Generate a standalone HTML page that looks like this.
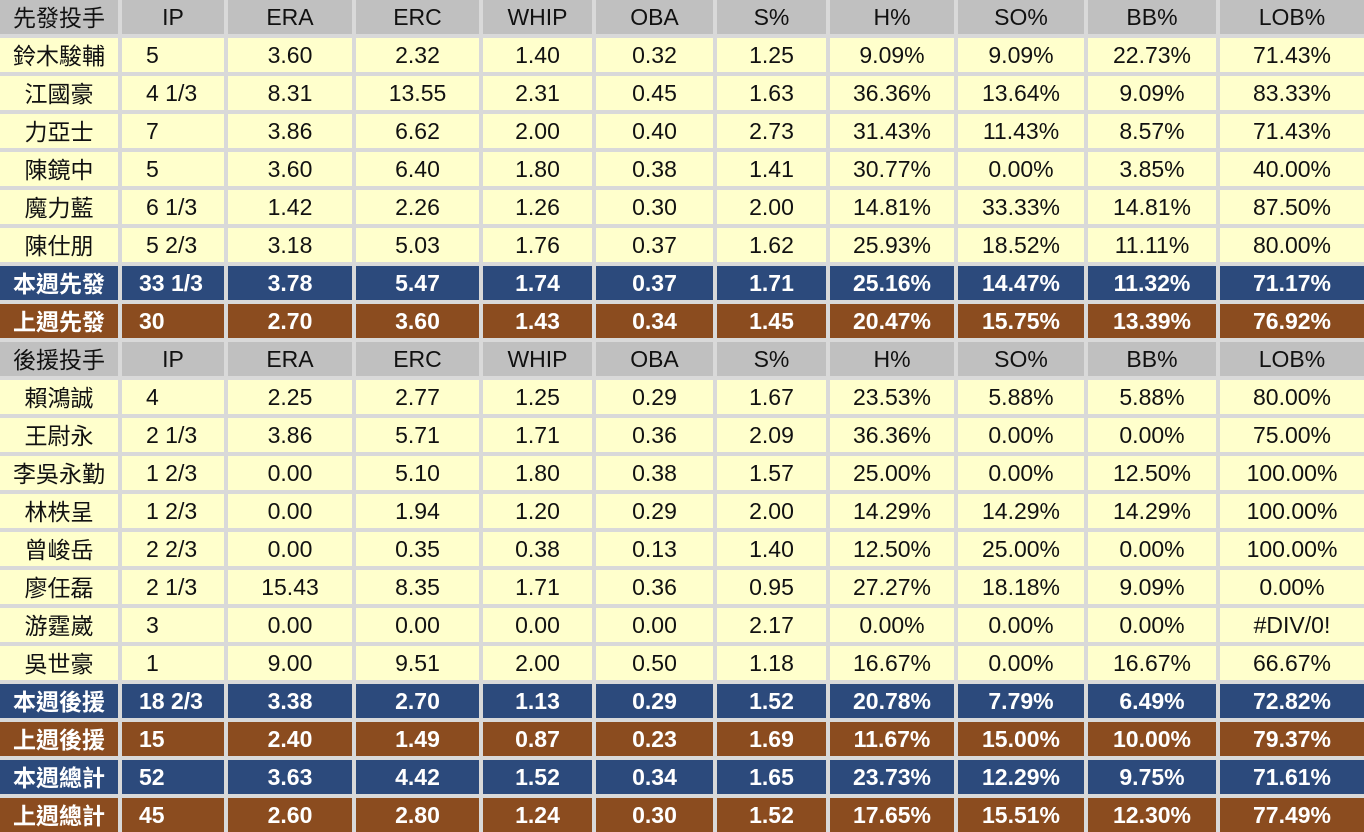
<!DOCTYPE html>
<html><head><meta charset="utf-8">
<style>
html,body{margin:0;padding:0;background:#d9d9d9;}
.g{display:grid;width:1364px;height:832px;grid-template-columns:118px 102px 124px 123px 109px 117px 109px 124px 126px 128px 144px;grid-template-rows:repeat(22,34px);gap:4px;background:#d9d9d9;font-family:"Liberation Sans","Noto Sans CJK TC",sans-serif;font-size:23px;}
.g>div{display:flex;align-items:center;justify-content:center;background:#ffffcc;color:#111;white-space:nowrap;line-height:34px;}
.g>div:nth-child(11n+1){font-family:"Noto Sans CJK TC",sans-serif;font-size:23px;line-height:28px;padding-bottom:3px;box-sizing:border-box;}
.g>div.h{background:#c0c0c0;}
.g>div.ip{justify-content:flex-start;padding-left:24px;}
.g>div.b{background:#2c4a7c;color:#fff;font-weight:bold;}
.g>div.r{background:#8b4c1f;color:#fff;font-weight:bold;}
.g>div.b.ip,.g>div.r.ip{padding-left:17px;}
</style></head><body>
<div class="g">
<div class="h">先發投手</div><div class="h">IP</div><div class="h">ERA</div><div class="h">ERC</div><div class="h">WHIP</div><div class="h">OBA</div><div class="h">S%</div><div class="h">H%</div><div class="h">SO%</div><div class="h">BB%</div><div class="h">LOB%</div>
<div>鈴木駿輔</div><div class="ip">5</div><div>3.60</div><div>2.32</div><div>1.40</div><div>0.32</div><div>1.25</div><div>9.09%</div><div>9.09%</div><div>22.73%</div><div>71.43%</div>
<div>江國豪</div><div class="ip">4 1/3</div><div>8.31</div><div>13.55</div><div>2.31</div><div>0.45</div><div>1.63</div><div>36.36%</div><div>13.64%</div><div>9.09%</div><div>83.33%</div>
<div>力亞士</div><div class="ip">7</div><div>3.86</div><div>6.62</div><div>2.00</div><div>0.40</div><div>2.73</div><div>31.43%</div><div>11.43%</div><div>8.57%</div><div>71.43%</div>
<div>陳鏡中</div><div class="ip">5</div><div>3.60</div><div>6.40</div><div>1.80</div><div>0.38</div><div>1.41</div><div>30.77%</div><div>0.00%</div><div>3.85%</div><div>40.00%</div>
<div>魔力藍</div><div class="ip">6 1/3</div><div>1.42</div><div>2.26</div><div>1.26</div><div>0.30</div><div>2.00</div><div>14.81%</div><div>33.33%</div><div>14.81%</div><div>87.50%</div>
<div>陳仕朋</div><div class="ip">5 2/3</div><div>3.18</div><div>5.03</div><div>1.76</div><div>0.37</div><div>1.62</div><div>25.93%</div><div>18.52%</div><div>11.11%</div><div>80.00%</div>
<div class="b">本週先發</div><div class="b ip">33 1/3</div><div class="b">3.78</div><div class="b">5.47</div><div class="b">1.74</div><div class="b">0.37</div><div class="b">1.71</div><div class="b">25.16%</div><div class="b">14.47%</div><div class="b">11.32%</div><div class="b">71.17%</div>
<div class="r">上週先發</div><div class="r ip">30</div><div class="r">2.70</div><div class="r">3.60</div><div class="r">1.43</div><div class="r">0.34</div><div class="r">1.45</div><div class="r">20.47%</div><div class="r">15.75%</div><div class="r">13.39%</div><div class="r">76.92%</div>
<div class="h">後援投手</div><div class="h">IP</div><div class="h">ERA</div><div class="h">ERC</div><div class="h">WHIP</div><div class="h">OBA</div><div class="h">S%</div><div class="h">H%</div><div class="h">SO%</div><div class="h">BB%</div><div class="h">LOB%</div>
<div>賴鴻誠</div><div class="ip">4</div><div>2.25</div><div>2.77</div><div>1.25</div><div>0.29</div><div>1.67</div><div>23.53%</div><div>5.88%</div><div>5.88%</div><div>80.00%</div>
<div>王尉永</div><div class="ip">2 1/3</div><div>3.86</div><div>5.71</div><div>1.71</div><div>0.36</div><div>2.09</div><div>36.36%</div><div>0.00%</div><div>0.00%</div><div>75.00%</div>
<div>李吳永勤</div><div class="ip">1 2/3</div><div>0.00</div><div>5.10</div><div>1.80</div><div>0.38</div><div>1.57</div><div>25.00%</div><div>0.00%</div><div>12.50%</div><div>100.00%</div>
<div>林柣呈</div><div class="ip">1 2/3</div><div>0.00</div><div>1.94</div><div>1.20</div><div>0.29</div><div>2.00</div><div>14.29%</div><div>14.29%</div><div>14.29%</div><div>100.00%</div>
<div>曾峻岳</div><div class="ip">2 2/3</div><div>0.00</div><div>0.35</div><div>0.38</div><div>0.13</div><div>1.40</div><div>12.50%</div><div>25.00%</div><div>0.00%</div><div>100.00%</div>
<div>廖任磊</div><div class="ip">2 1/3</div><div>15.43</div><div>8.35</div><div>1.71</div><div>0.36</div><div>0.95</div><div>27.27%</div><div>18.18%</div><div>9.09%</div><div>0.00%</div>
<div>游霆崴</div><div class="ip">3</div><div>0.00</div><div>0.00</div><div>0.00</div><div>0.00</div><div>2.17</div><div>0.00%</div><div>0.00%</div><div>0.00%</div><div>#DIV/0!</div>
<div>吳世豪</div><div class="ip">1</div><div>9.00</div><div>9.51</div><div>2.00</div><div>0.50</div><div>1.18</div><div>16.67%</div><div>0.00%</div><div>16.67%</div><div>66.67%</div>
<div class="b">本週後援</div><div class="b ip">18 2/3</div><div class="b">3.38</div><div class="b">2.70</div><div class="b">1.13</div><div class="b">0.29</div><div class="b">1.52</div><div class="b">20.78%</div><div class="b">7.79%</div><div class="b">6.49%</div><div class="b">72.82%</div>
<div class="r">上週後援</div><div class="r ip">15</div><div class="r">2.40</div><div class="r">1.49</div><div class="r">0.87</div><div class="r">0.23</div><div class="r">1.69</div><div class="r">11.67%</div><div class="r">15.00%</div><div class="r">10.00%</div><div class="r">79.37%</div>
<div class="b">本週總計</div><div class="b ip">52</div><div class="b">3.63</div><div class="b">4.42</div><div class="b">1.52</div><div class="b">0.34</div><div class="b">1.65</div><div class="b">23.73%</div><div class="b">12.29%</div><div class="b">9.75%</div><div class="b">71.61%</div>
<div class="r">上週總計</div><div class="r ip">45</div><div class="r">2.60</div><div class="r">2.80</div><div class="r">1.24</div><div class="r">0.30</div><div class="r">1.52</div><div class="r">17.65%</div><div class="r">15.51%</div><div class="r">12.30%</div><div class="r">77.49%</div>
</div>
</body></html>
